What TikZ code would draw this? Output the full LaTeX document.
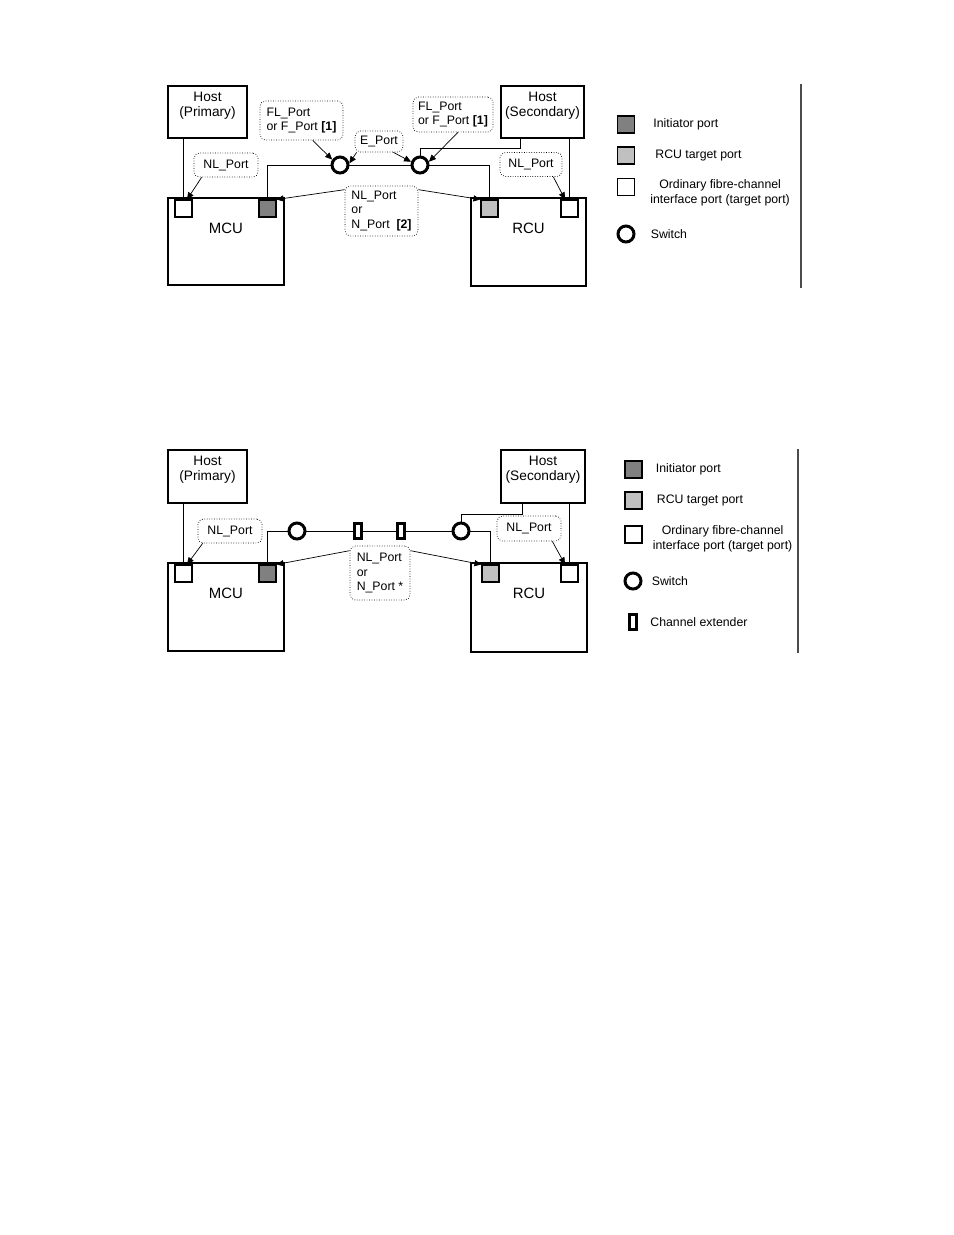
\documentclass[tikz,border=0pt]{standalone}
\usepackage{fontspec}
\setmainfont{Liberation Sans}
\usetikzlibrary{arrows.meta,positioning}
\definecolor{InitGray}{HTML}{808080}
\definecolor{TargetGray}{HTML}{C0C0C0}

\begin{document}
\begin{tikzpicture}[x=0.02cm, y=-0.02cm, >={Triangle[length=4pt,width=3.5pt]},
  unit/.style={draw, line width=1.1pt, inner sep=0pt},
  unittext/.style={inner sep=0pt, align=center, font=\fontsize{7.8}{8.6}\selectfont},
  port/.style={draw, line width=0.6pt, minimum size=0.34cm, inner sep=0pt},
  switch/.style={draw, circle, line width=1.7pt, minimum size=0.32cm, inner sep=0pt},
  extender/.style={draw, line width=1.5pt, minimum width=0.15cm, minimum height=0.31cm, inner sep=0pt},
  tag/.style={draw, densely dotted, rounded corners=3pt, align=left, inner sep=1.5pt, font=\fontsize{7}{8}\selectfont},
  wire/.style={line width=0.5pt},
  legtext/.style={inner sep=0pt, align=center, font=\fontsize{7}{8.5}\selectfont}]

\useasboundingbox (0,0) rectangle (954,1235);

% ---- upper figure: switched connection
\node[unit, minimum width=1.58cm, minimum height=1.04cm] (hostP) at (207.5,112) {};
\node[unittext, anchor=north] (hostPtxt) at ([yshift=-0.14cm]hostP.north) {Host\\(Primary)};
\node[unit, minimum width=1.66cm, minimum height=1.04cm] (hostS) at (542.5,112) {};
\node[unittext, anchor=north] (hostStxt) at ([yshift=-0.14cm]hostS.north) {Host\\(Secondary)};
\node[unit, minimum width=2.32cm, minimum height=1.74cm] (mcu) at (226,241.5) {};
\node[font=\fontsize{8.5}{10}\selectfont] (mcutxt) at ([yshift=-0.62cm]mcu.north) {MCU};
\node[unit, minimum width=2.30cm, minimum height=1.76cm] (rcu) at (528.5,242) {};
\node[font=\fontsize{8.5}{10}\selectfont] (rcutxt) at ([yshift=-0.62cm]rcu.north) {RCU};

\node[port] (pw1) at (183.5,208.5) {};
\node[port, fill=InitGray] (pi) at (267.5,208.5) {};
\node[port, fill=TargetGray] (pt) at (489.5,208.5) {};
\node[port] (pw2) at (569.5,208.5) {};

\node[switch] (sw1) at (340,165) {};
\node[switch] (sw2) at (420,165) {};

\draw[wire] (pi.north) |- (sw1.west);
\draw[wire] (sw1.east) -- (sw2.west);
\draw[wire] (sw2.east) -| (pt.north);
\draw[wire] ([xshift=-0.45cm]hostS.south) -- ++(0,9) -| (sw2.north);
\draw[wire] (hostP.south -| pw1.north) -- (pw1.north);
\draw[wire] (hostS.south -| pw2.north) -- (pw2.north);

\node[tag, minimum width=1.28cm, minimum height=0.48cm, align=center] (nlL) at (226,165) {NL\_Port};
\node[tag, minimum width=1.66cm, minimum height=0.78cm] (flA) at (301.5,120.5) {FL\_Port\\or F\_Port \textbf{[1]}};
\node[tag, minimum width=0.96cm, minimum height=0.42cm, align=center] (ep) at (379,141.5) {E\_Port};
\node[tag, minimum width=1.6cm, minimum height=0.7cm] (flB) at (453,114.5) {FL\_Port\\or F\_Port \textbf{[1]}};
\node[tag, minimum width=1.24cm, minimum height=0.48cm, align=center] (nlR) at (531,164.5) {NL\_Port};
\node[tag, minimum width=1.46cm, minimum height=1.0cm] (nn) at (381.5,211) {NL\_Port\\or\\N\_Port\ \ \textbf{[2]}};

\draw[->] ([xshift=0.16cm]nlL.south west) -- ([xshift=0.07cm]pw1.north);
\draw[->] ([xshift=1.06cm]flA.south west) -- (sw1.145);
\draw[->] ([xshift=0.04cm]ep.south west) -- (sw1.10);
\draw[->] ([xshift=-0.2cm]ep.south east) -- (sw2.160);
\draw[->] ([xshift=0.1cm]flB.south) -- (sw2.20);
\draw[->] ([xshift=-0.18cm]nlR.south east) -- ([xshift=-0.09cm]pw2.north);
\draw[->] ([yshift=-0.08cm]nn.north west) -- (pi.north east);
\draw[->] ([yshift=-0.08cm]nn.north east) -- (pt.north west);

% legend
\node[port, fill=InitGray] (lgI) at (626,124.5) {};
\node[legtext, right=0.36cm of lgI] (lgItxt) {Initiator port};
\node[port, fill=TargetGray] (lgT) at (626,155.5) {};
\node[legtext, right=0.4cm of lgT] (lgTtxt) {RCU target port};
\node[port] (lgO) at (626,187) {};
\node[legtext, right=0.3cm of lgO, yshift=-0.11cm] (lgOtxt) {Ordinary fibre-channel\\interface port (target port)};
\node[switch] (lgS) at (626,234) {};
\node[legtext, right=0.3cm of lgS] (lgStxt) {Switch};
\draw[line width=0.6pt, black!70] (801,84) -- (801,288);

% ---- lower figure: with channel extenders
\node[unit, minimum width=1.58cm, minimum height=1.06cm] (hostP2) at (207.5,476.5) {};
\node[unittext, anchor=north] (hostP2txt) at ([yshift=-0.14cm]hostP2.north) {Host\\(Primary)};
\node[unit, minimum width=1.68cm, minimum height=1.06cm] (hostS2) at (543,476.5) {};
\node[unittext, anchor=north] (hostS2txt) at ([yshift=-0.14cm]hostS2.north) {Host\\(Secondary)};
\node[unit, minimum width=2.32cm, minimum height=1.76cm] (mcu2) at (226,607) {};
\node[font=\fontsize{8.5}{10}\selectfont] (mcu2txt) at ([yshift=-0.62cm]mcu2.north) {MCU};
\node[unit, minimum width=2.32cm, minimum height=1.78cm] (rcu2) at (529,607.5) {};
\node[font=\fontsize{8.5}{10}\selectfont] (rcu2txt) at ([yshift=-0.62cm]rcu2.north) {RCU};

\node[port] (pw3) at (183.5,573.5) {};
\node[port, fill=InitGray] (pi2) at (267.5,573.5) {};
\node[port, fill=TargetGray] (pt2) at (490.5,573.5) {};
\node[port] (pw4) at (569.5,573.5) {};

\node[switch] (sw3) at (297,531) {};
\node[extender] (ex1) at (358,531) {};
\node[extender] (ex2) at (401,531) {};
\node[switch] (sw4) at (461,531) {};

\draw[wire] (pi2.north) |- (sw3.west);
\draw[wire] (sw3) -- (ex1) -- (ex2) -- (sw4);
\draw[wire] (sw4.east) -| (pt2.north);
\draw[wire] ([xshift=-0.42cm]hostS2.south) -- ++(0,10) -| (sw4.north);
\draw[wire] (hostP2.south -| pw3.north) -- (pw3.north);
\draw[wire] (hostS2.south -| pw4.north) -- (pw4.north);

\node[tag, minimum width=1.28cm, minimum height=0.48cm, align=center] (nlL2) at (230,531) {NL\_Port};
\node[tag, minimum width=1.28cm, minimum height=0.5cm, align=center] (nlR2) at (529,528.5) {NL\_Port};
\node[tag, minimum width=1.2cm, minimum height=1.08cm] (nn2) at (380,573) {NL\_Port\\or\\N\_Port *};

\draw[->] ([xshift=0.1cm]nlL2.south west) -- ([xshift=0.07cm]pw3.north);
\draw[->] ([xshift=-0.18cm]nlR2.south east) -- ([xshift=-0.09cm]pw4.north);
\draw[->] ([yshift=-0.1cm]nn2.north west) -- (pi2.north east);
\draw[->] ([yshift=-0.1cm]nn2.north east) -- (pt2.north west);

% legend
\node[port, fill=InitGray] (lgI2) at (633.5,469.5) {};
\node[legtext, right=0.26cm of lgI2] (lgI2txt) {Initiator port};
\node[port, fill=TargetGray] (lgT2) at (633.5,500.5) {};
\node[legtext, right=0.28cm of lgT2] (lgT2txt) {RCU target port};
\node[port] (lgO2) at (633.5,534.5) {};
\node[legtext, right=0.2cm of lgO2, yshift=-0.09cm] (lgO2txt) {Ordinary fibre-channel\\interface port (target port)};
\node[switch] (lgS2) at (633,581) {};
\node[legtext, right=0.18cm of lgS2] (lgS2txt) {Switch};
\node[extender] (lgE2) at (633,622) {};
\node[legtext, right=0.24cm of lgE2] (lgE2txt) {Channel extender};
\draw[line width=0.6pt, black!70] (798,449) -- (798,653);
\end{tikzpicture}
\end{document}
